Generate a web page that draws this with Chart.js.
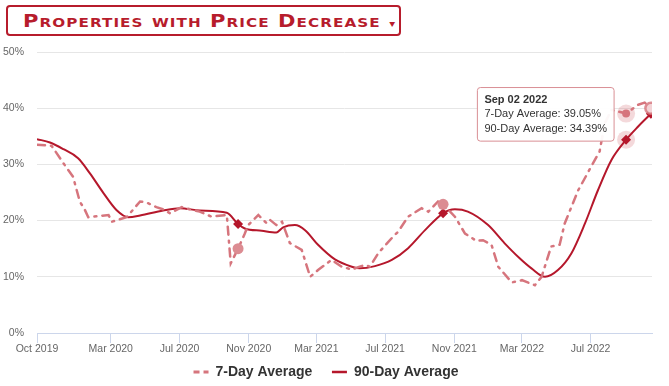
<!DOCTYPE html>
<html lang="en">
<head>
  <meta charset="UTF-8" />
  <title>Properties with Price Decrease</title>
  <script src="https://cdn.jsdelivr.net/npm/chart.js"></script>
  <style>
    html, body { margin: 0; padding: 0; background: #fff; }
    body { width: 669px; height: 386px; position: relative; overflow: hidden; }
    #titulo {
      position: absolute; left: 6px; top: 5px; width: 376px; height: 27px;
      border: 2px solid #b71c2c; border-radius: 4px; background: #fff;
      color: #b71c2c; font-family: 'DejaVu Sans', sans-serif; font-weight: bold;
      font-size: 18px; font-variant: small-caps;
      line-height: 27px; padding-left: 15px; box-sizing: content-box; z-index: 2;
      white-space: nowrap; overflow: hidden;
    }
    #titulo .txt { display: inline-block; letter-spacing: 0.9px; transform: scaleX(1.17); transform-origin: left center; }
    #titulo .car { font-size: 10px; letter-spacing: 0; }
    canvas { position: absolute; left: 0; top: 0; }
  </style>
</head>
<body>
  <div id="titulo"><span class="txt">Properties with Price Decrease <span class="car">▾</span></span></div>
  <canvas id="grafico" width="669" height="386"></canvas>

  <script>
    // days counted from 2019-10-01
    const days7 = [21,47,68,85,97,106,112,130,148,154,180,204,216,233,245,257,278,293,310,331,
      358,365,378,390,396,414,429,435,446,456,470,491,506,520,544,562,580,594,603,612,
      627,651,662,680,704,716,733,742,763,781,801,813,828,840,864,882,905,917,934,949,
      958,982,1005,1020,1029,1041,1067,1088,1100,1111];
    const avg7 = [33.5,33.3,30.2,27.8,23.4,21.9,20.6,20.8,21.0,19.8,20.6,23.4,23.2,22.4,22.0,21.3,22.4,22.0,21.6,20.7,
      21.0,12.4,15.0,17.7,19.2,21.0,19.5,20.1,19.2,19.8,16.0,14.8,10.0,11.2,13.0,11.8,11.3,11.8,12.1,11.8,
      14.2,16.9,18.0,20.7,22.2,21.6,23.4,22.9,20.7,17.7,16.4,16.5,15.7,11.8,9.0,9.4,8.5,10.0,15.4,15.7,
      19.5,25.4,29.6,32.3,37.3,39.7,39.05,40.6,41.0,40.0];

    const days90 = [21,44,68,94,115,139,162,183,204,245,275,310,358,378,390,420,446,458,479,497,
      520,550,580,594,621,651,680,710,742,763,786,822,851,878,899,923,946,970,994,1017,
      1041,1067,1088,1111];
    const avg90 = [34.5,33.9,32.7,31.1,28.4,24.9,21.9,20.6,20.9,21.8,22.2,21.8,21.4,19.4,18.6,18.2,17.9,18.8,19.2,18.3,
      15.7,13.1,11.8,11.5,11.9,13.0,15.1,18.3,21.3,22.0,21.6,19.2,16.0,13.3,11.5,10.0,11.2,14.2,19.5,25.4,
      30.8,34.39,36.7,39.0];

    const markerDays = [378, 742, 1111];
    const hoverDay = 1067;

    const tickDays = [21, 152, 274, 397, 517, 639, 762, 882, 1004];
    const tickLabels = ['Oct 2019','Mar 2020','Jul 2020','Nov 2020','Mar 2021','Jul 2021','Nov 2021','Mar 2022','Jul 2022'];

    const meses = ['Jan','Feb','Mar','Apr','May','Jun','Jul','Aug','Sep','Oct','Nov','Dec'];
    function fecha(d) {
      const dt = new Date(Date.UTC(2019, 9, 1) + d * 864e5);
      return meses[dt.getUTCMonth()] + ' ' + String(dt.getUTCDate()).padStart(2, '0') + ' ' + dt.getUTCFullYear();
    }

    const rojo = '#b5172b';
    const rosa = '#d6757d';
    const fuente = "'Liberation Sans', Arial, sans-serif";

    // halo under the hovered points
    const halo = {
      id: 'halo',
      beforeDatasetsDraw(chart) {
        const ctx = chart.ctx;
        chart.getActiveElements().forEach((a) => {
          const el = chart.getDatasetMeta(a.datasetIndex).data[a.index];
          ctx.save();
          ctx.beginPath();
          ctx.arc(el.x, el.y, 9, 0, Math.PI * 2);
          ctx.fillStyle = 'rgba(214,117,125,0.28)';
          ctx.fill();
          ctx.restore();
        });
      },
    };

    Chart.Tooltip.positioners.izquierda = function (items) {
      if (!items.length) return false;
      const el = items[0].element;
      return { x: el.x - 15, y: el.y - 26 };
    };

    const pts7 = days7.map((d, i) => ({ x: d, y: avg7[i] }));
    const pts90 = days90.map((d, i) => ({ x: d, y: avg90[i] }));

    const chart = new Chart(document.getElementById('grafico'), {
      type: 'line',
      data: {
        datasets: [
          {
            label: '7-Day Average',
            data: pts7,
            borderColor: rosa,
            backgroundColor: rosa,
            borderWidth: 2.5,
            borderDash: [8, 6, 2, 6],
            borderCapStyle: 'round',
            tension: 0,
            pointStyle: 'circle',
            pointRadius: (c) => (markerDays.includes(c.raw && c.raw.x) ? 5.5 : 0),
            pointBackgroundColor: (c) => (c.raw && c.raw.x === 1111 ? '#f3d3d6' : '#dc8c92'),
            pointBorderColor: (c) => (c.raw && c.raw.x === 1111 ? 'rgba(214,117,125,0.8)' : '#dc8c92'),
            pointBorderWidth: (c) => (c.raw && c.raw.x === 1111 ? 2.5 : 0),
            pointHoverRadius: 4,
            pointHoverBorderWidth: 0,
            pointHoverBackgroundColor: rosa,
          },
          {
            label: '90-Day Average',
            data: pts90,
            borderColor: rojo,
            backgroundColor: rojo,
            borderWidth: 2,
            cubicInterpolationMode: 'monotone',
            pointStyle: 'rectRot',
            pointRadius: (c) => (markerDays.includes(c.raw && c.raw.x) ? 5 : 0),
            pointBorderWidth: 0,
            pointHoverRadius: 5,
            pointHoverBorderWidth: 0,
            pointHoverBackgroundColor: rojo,
          },
        ],
      },
      options: {
        responsive: false,
        animation: false,
        layout: { padding: { top: 52, right: 17, left: 0, bottom: -3 } },
        font: { family: fuente },
        scales: {
          x: {
            type: 'linear',
            min: 21,
            max: 1113,
            afterBuildTicks: (s) => { s.ticks = tickDays.map((v) => ({ value: v })); },
            afterFit: (s) => { s.height = 24; },
            grid: { drawOnChartArea: false, drawTicks: true, tickLength: 10, color: '#ccd6eb' },
            border: { color: '#ccd6eb' },
            ticks: {
              autoSkip: false,
              maxRotation: 0,
              padding: 0,
              color: '#666',
              font: { size: 10.5, family: fuente },
              callback: (v) => tickLabels[tickDays.indexOf(v)],
            },
          },
          y: {
            min: 0,
            max: 50,
            afterFit: (s) => { s.width = 37; },
            grid: { color: '#e6e6e6', drawTicks: false },
            border: { display: false },
            ticks: {
              stepSize: 10,
              padding: 13,
              color: '#666',
              font: { size: 10.5, family: fuente },
              callback: (v) => v + '%',
            },
          },
        },
        plugins: {
          legend: {
            position: 'bottom',
            labels: {
              usePointStyle: true,
              pointStyle: 'line',
              pointStyleWidth: 15,
              padding: 8,
              color: '#333',
              font: { size: 14, weight: 'bold', family: fuente },
              generateLabels: (chart) =>
                chart.data.datasets.map((ds, i) => ({
                  // trailing spaces widen the gap between the two items
                  text: i === 0 ? ds.label + '   ' : ds.label,
                  datasetIndex: i,
                  strokeStyle: ds.borderColor,
                  fillStyle: ds.borderColor,
                  lineWidth: i === 0 ? 3 : 2.5,
                  lineDash: i === 0 ? [6, 4] : [],
                  pointStyle: 'line',
                  fontColor: '#333',
                })),
            },
          },
          tooltip: {
            animation: false,
            position: 'izquierda',
            xAlign: 'right',
            yAlign: 'top',
            caretSize: 0,
            caretPadding: 0,
            cornerRadius: 3,
            backgroundColor: 'rgba(255,255,255,0.95)',
            borderColor: '#d98f95',
            borderWidth: 1,
            titleColor: '#333',
            bodyColor: '#333',
            titleFont: { size: 11, weight: 'bold', family: fuente },
            bodyFont: { size: 11, family: fuente },
            titleMarginBottom: 1,
            bodySpacing: 1,
            padding: { top: 6, left: 7, right: 7, bottom: 6 },
            displayColors: false,
            callbacks: {
              title: (items) => fecha(items[0].parsed.x),
              label: (item) => item.dataset.label + ': ' + item.parsed.y.toFixed(2) + '%',
            },
          },
        },
      },
      plugins: [halo],
    });

    const activos = [
      { datasetIndex: 0, index: days7.indexOf(hoverDay) },
      { datasetIndex: 1, index: days90.indexOf(hoverDay) },
    ];
    chart.setActiveElements(activos);
    chart.tooltip.setActiveElements(activos, { x: 0, y: 0 });
    chart.update('none');
  </script>
</body>
</html>
